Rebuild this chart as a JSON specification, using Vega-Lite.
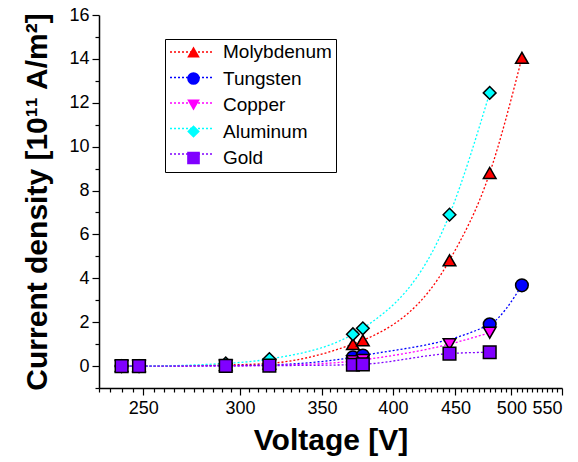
{
  "$schema": "https://vega.github.io/schema/vega-lite/v6.json",
  "width": 463,
  "height": 373,
  "autosize": {"type": "none"},
  "padding": {"left": 99, "top": 15, "right": 16, "bottom": 74},
  "background": "white",
  "config": {
    "font": "Liberation Sans",
    "view": {"stroke": null},
    "axis": {
      "domainColor": "black", "tickColor": "black", "labelColor": "black", "titleColor": "black",
      "grid": false, "labelFont": "Liberation Sans", "titleFont": "Liberation Sans",
      "domainWidth": 1.5, "tickWidth": 1.2
    },
    "legend": {"labelFont": "Liberation Sans"}
  },
  "data": {
    "values": [
      {"metal": "Molybdenum", "V": 240, "J": 0},
      {"metal": "Molybdenum", "V": 248, "J": 0},
      {"metal": "Molybdenum", "V": 292, "J": 0.05},
      {"metal": "Molybdenum", "V": 317, "J": 0.12},
      {"metal": "Molybdenum", "V": 371, "J": 1.0},
      {"metal": "Molybdenum", "V": 378, "J": 1.17},
      {"metal": "Molybdenum", "V": 445, "J": 4.82},
      {"metal": "Molybdenum", "V": 480, "J": 8.8},
      {"metal": "Molybdenum", "V": 510, "J": 14.05},
      {"metal": "Tungsten", "V": 240, "J": 0},
      {"metal": "Tungsten", "V": 248, "J": 0},
      {"metal": "Tungsten", "V": 292, "J": 0.02},
      {"metal": "Tungsten", "V": 317, "J": 0.05},
      {"metal": "Tungsten", "V": 371, "J": 0.4},
      {"metal": "Tungsten", "V": 378, "J": 0.48},
      {"metal": "Tungsten", "V": 480, "J": 1.9},
      {"metal": "Tungsten", "V": 510, "J": 3.68},
      {"metal": "Copper", "V": 240, "J": 0},
      {"metal": "Copper", "V": 248, "J": 0},
      {"metal": "Copper", "V": 292, "J": 0.01},
      {"metal": "Copper", "V": 317, "J": 0.03},
      {"metal": "Copper", "V": 371, "J": 0.22},
      {"metal": "Copper", "V": 378, "J": 0.28},
      {"metal": "Copper", "V": 445, "J": 1.0},
      {"metal": "Copper", "V": 480, "J": 1.52},
      {"metal": "Aluminum", "V": 240, "J": 0},
      {"metal": "Aluminum", "V": 248, "J": 0},
      {"metal": "Aluminum", "V": 292, "J": 0.12},
      {"metal": "Aluminum", "V": 317, "J": 0.32},
      {"metal": "Aluminum", "V": 371, "J": 1.45},
      {"metal": "Aluminum", "V": 378, "J": 1.72},
      {"metal": "Aluminum", "V": 445, "J": 6.9},
      {"metal": "Aluminum", "V": 480, "J": 12.45},
      {"metal": "Gold", "V": 240, "J": 0},
      {"metal": "Gold", "V": 248, "J": 0},
      {"metal": "Gold", "V": 292, "J": 0.01},
      {"metal": "Gold", "V": 317, "J": 0.02},
      {"metal": "Gold", "V": 371, "J": 0.06},
      {"metal": "Gold", "V": 378, "J": 0.08},
      {"metal": "Gold", "V": 445, "J": 0.57},
      {"metal": "Gold", "V": 480, "J": 0.63}
    ]
  },
  "resolve": {"axis": {"x": "independent", "y": "independent"}},
  "layer": [
    {
      "mark": {"type": "line", "strokeDash": [2, 2], "strokeWidth": 1.3, "interpolate": "monotone"},
      "encoding": {
        "x": {
          "field": "V", "type": "quantitative",
          "scale": {"type": "log", "domain": [230, 550], "nice": false},
          "axis": {
            "orient": "bottom",
            "values": [250, 300, 350, 400, 450, 500, 550],
            "format": "d", "labelFontSize": 18, "tickSize": 7, "labelPadding": 4,
            "title": "Voltage [V]", "titleFontSize": 30, "titleFontWeight": "bold", "titlePadding": 8
          }
        },
        "y": {
          "field": "J", "type": "quantitative",
          "scale": {"domain": [-1, 16], "nice": false, "zero": false},
          "axis": {
            "orient": "left",
            "values": [0, 2, 4, 6, 8, 10, 12, 14, 16],
            "labelFontSize": 18, "tickSize": 7, "labelPadding": 3,
            "title": "Current density [10¹¹ A/m²]", "titleFontSize": 30, "titleFontWeight": "bold", "titlePadding": 16
          }
        },
        "stroke": {
          "field": "metal", "type": "nominal", "sort": null,
          "scale": {"range": ["#FF0000", "#0000FF", "#FF00FF", "#00FFFF", "#8000FF"]},
          "legend": {
            "orient": "none", "legendX": 66, "legendY": 24, "title": null, "zindex": 1,
            "symbolType": "stroke", "symbolSize": 1764, "symbolStrokeWidth": 1.3, "symbolDash": [2, 2],
            "clipHeight": 18, "rowPadding": 7.5, "padding": 4, "symbolOffset": 0,
            "labelFontSize": 18, "labelExpr": "''"
          }
        }
      }
    },
    {
      "mark": {"type": "point", "filled": true, "size": 160, "stroke": "black", "strokeWidth": 1.5, "opacity": 1},
      "encoding": {
        "x": {
          "field": "V", "type": "quantitative",
          "axis": {
            "orient": "bottom",
            "values": [230, 235, 240, 245, 255, 260, 265, 270, 275, 280, 285, 290, 295, 305, 310, 315, 320, 325, 330, 335, 340, 345, 355, 360, 365, 370, 375, 380, 385, 390, 395, 405, 410, 415, 420, 425, 430, 435, 440, 445, 455, 460, 465, 470, 475, 480, 485, 490, 495, 505, 510, 515, 520, 525, 530, 535, 540, 545],
            "labels": false, "domain": false, "tickSize": 4, "title": null
          }
        },
        "y": {
          "field": "J", "type": "quantitative",
          "axis": {
            "orient": "left",
            "values": [-1, 1, 3, 5, 7, 9, 11, 13, 15],
            "labels": false, "domain": false, "tickSize": 4, "title": null
          }
        },
        "fill": {
          "field": "metal", "type": "nominal",
          "scale": {"domain": ["Molybdenum", "Tungsten", "Copper", "Aluminum", "Gold"], "range": ["#FF0000", "#0000FF", "#FF00FF", "#00FFFF", "#8000FF"]},
          "legend": {
            "orient": "none", "legendX": 66, "legendY": 24, "title": null, "zindex": 2,
            "strokeColor": "black", "padding": 4, "symbolOffset": 15,
            "symbolSize": 160, "symbolStrokeColor": "black", "symbolStrokeWidth": 1.5,
            "clipHeight": 18, "rowPadding": 7.5, "labelFontSize": 19, "labelOffset": 20, "labelColor": "black"
          }
        },
        "shape": {
          "field": "metal", "type": "nominal",
          "scale": {"domain": ["Molybdenum", "Tungsten", "Copper", "Aluminum", "Gold"], "range": ["triangle-up", "circle", "triangle-down", "diamond", "square"]},
          "legend": {
            "orient": "none", "legendX": 66, "legendY": 24, "title": null, "zindex": 2,
            "strokeColor": "black", "padding": 4, "symbolOffset": 15,
            "symbolSize": 160, "symbolStrokeColor": "black", "symbolStrokeWidth": 1.5,
            "clipHeight": 18, "rowPadding": 7.5, "labelFontSize": 19, "labelOffset": 20, "labelColor": "black"
          }
        }
      }
    }
  ]
}
